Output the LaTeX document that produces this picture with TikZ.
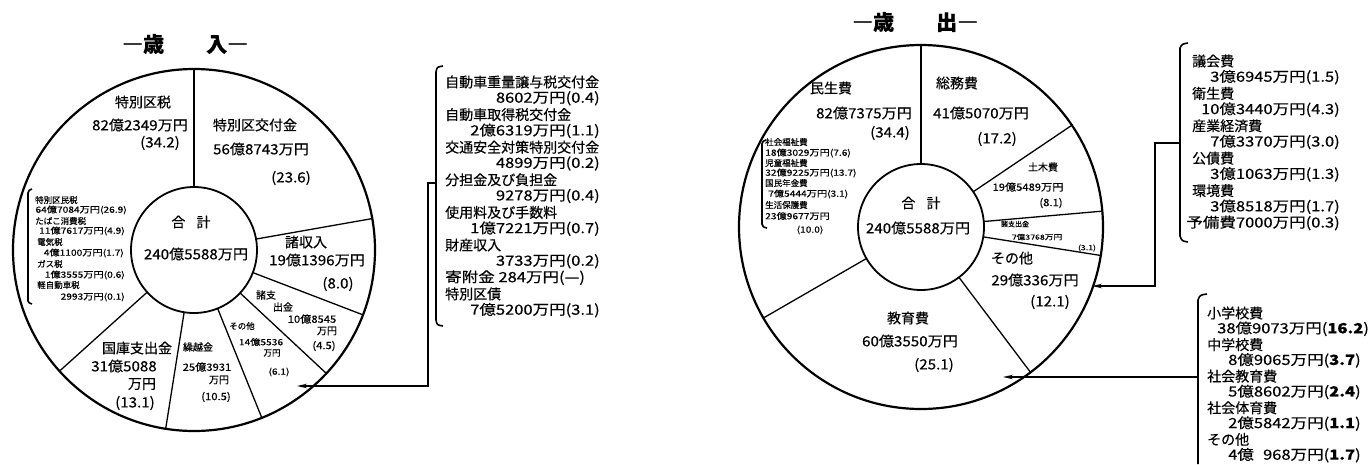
\documentclass[tikz,border=0pt]{standalone}
\usepackage{fontspec}
\setmainfont{Noto Sans CJK JP}[FakeBold=0.35]
\usetikzlibrary{arrows.meta,calc}
\newcommand\fsz[1]{\fontsize{#1}{#1}\selectfont}
\begin{document}
\begin{tikzpicture}[x=1pt,y=-1pt,
  outerc/.style={line width=2.2pt},
  innerc/.style={line width=1.8pt},
  segline/.style={line width=1.3pt},
  brk/.style={line width=1.6pt},
  leadarrow/.style={line width=1.2pt,-{Stealth[length=10pt,width=4.5pt]}},
  txt/.style={inner sep=0pt},
  ttl/.style={txt,font=\fsz{21}\bfseries},
  big/.style={txt,font=\fsz{14}},
  bignum/.style={txt,font=\fsz{14},xscale=1.08},
  lst/.style={txt,font=\fsz{14},anchor=west},
  lstnum/.style={txt,font=\fsz{14},xscale=1.18},
  mid/.style={txt,font=\fsz{10}},
  midnum/.style={txt,font=\fsz{10},xscale=1.12},
  sml/.style={txt,font=\fsz{8.5}},
  smlnum/.style={txt,font=\fsz{8.5},xscale=1.2},
  tiny/.style={txt,font=\fsz{7}},
  tinynum/.style={txt,font=\fsz{7},xscale=1.25},
]
\fill[white] (0,0) rectangle (1371,464);
\useasboundingbox (0,0) rectangle (1371,464);

% ---------------- titles
\node[ttl,anchor=west] (tl) at (122,44) {―歳　　入―};
\node[ttl,anchor=west] (tr) at (852,22) {―歳　　出―};

% ---------------- left pie
\coordinate (LC) at (194,250);
\draw[outerc] (LC) circle[radius=181pt];
\draw[innerc] (LC) circle[radius=63pt];
\foreach \a in {90,10,-21,-43,-68,-99,-138}
  \draw[segline] ($(LC)+(\a:63pt)$) -- ($(LC)+(\a:181pt)$);

\node[big] (lt1) at (191,222) {合\hspace{0.8em}計};
\node[bignum] (lt2) at (196,254) {240億5588万円};

\node[big] (l1a) at (143,102) {特別区税};
\node[bignum] (l1b) at (140,125) {82億2349万円};
\node[bignum] (l1c) at (160,143) {(34.2)};
\node[big] (l2a) at (255,125) {特別区交付金};
\node[bignum] (l2b) at (261,149) {56億8743万円};
\node[bignum] (l2c) at (291,178) {(23.6)};
\node[big] (l3a) at (306,242) {諸収入};
\node[bignum] (l3b) at (317,260) {19億1396万円};
\node[bignum] (l3c) at (338,284) {(8.0)};
\node[mid] (l4a) at (266,295) {諸支};
\node[mid] (l4b) at (283,307) {出金};
\node[midnum] (l4c) at (312,319) {10億8545};
\node[mid] (l4d) at (327,331) {万円};
\node[midnum] (l4e) at (324,346) {(4.5)};
\node[sml] (l5a) at (242,326) {その他};
\node[smlnum] (l5b) at (261,342) {14億5536};
\node[sml] (l5c) at (272,353) {万円};
\node[smlnum] (l5d) at (279,372) {(6.1)};
\node[mid] (l6a) at (198,347) {繰越金};
\node[midnum] (l6b) at (207,367) {25億3931};
\node[mid] (l6c) at (219,380) {万円};
\node[midnum] (l6d) at (216,397) {(10.5)};
\node[big] (l7a) at (137,348) {国庫支出金};
\node[bignum] (l7b) at (124,366) {31億5088};
\node[big] (l7c) at (142,384) {万円};
\node[bignum] (l7d) at (135,403) {(13.1)};

% small list inside left pie
\draw[brk] (32,189) .. controls (29,190) .. (28,193) -- (28,301) .. controls (29,303) .. (32,304);
\node[sml,anchor=west] (s1) at (35,200) {特別区民税};
\node[smlnum,anchor=east] (s2) at (127,210) {64億7084万円(26.9)};
\node[sml,anchor=west] (s3) at (35,221) {たばこ消費税};
\node[smlnum,anchor=east] (s4) at (125,231) {11億7617万円(4.9)};
\node[sml,anchor=west] (s5) at (37,242) {電気税};
\node[smlnum,anchor=east] (s6) at (124,253) {4億1100万円(1.7)};
\node[sml,anchor=west] (s7) at (37,264) {ガス税};
\node[smlnum,anchor=east] (s8) at (125,275) {1億3555万円(0.6)};
\node[sml,anchor=west] (s9) at (37,285) {軽自動車税};
\node[smlnum,anchor=east] (s10) at (125,297) {2993万円(0.1)};

% left bracket list
\draw[brk] (443,66) .. controls (437,67) .. (436,72) -- (436,320) .. controls (437,325) .. (443,326);
\coordinate (la0) at (436,183);
\coordinate (la1) at (428,183);
\coordinate (la2) at (428,386);
\coordinate (latip) at (297,386);
\draw[leadarrow] (la0) -- (la1) -- (la2) -- (latip);

\node[lst] (a0) at (445,82) {自動車重量譲与税交付金};
\node[lstnum,anchor=east] (a1) at (600,98.3) {8602万円(0.4)};
\node[lst] (a2) at (445,114.6) {自動車取得税交付金};
\node[lstnum,anchor=east] (a3) at (600,130.9) {2億6319万円(1.1)};
\node[lst] (a4) at (445,147.2) {交通安全対策特別交付金};
\node[lstnum,anchor=east] (a5) at (600,163.5) {4899万円(0.2)};
\node[lst] (a6) at (445,179.8) {分担金及び負担金};
\node[lstnum,anchor=east] (a7) at (600,196.1) {9278万円(0.4)};
\node[lst] (a8) at (445,212.4) {使用料及び手数料};
\node[lstnum,anchor=east] (a9) at (600,228.7) {1億7221万円(0.7)};
\node[lst] (a10) at (445,245) {財産収入};
\node[lstnum,anchor=east] (a11) at (600,261.3) {3733万円(0.2)};
\node[lstnum,anchor=west] (a12) at (445,277.6) {寄附金 284万円(—)};
\node[lst] (a13) at (445,293.9) {特別区債};
\node[lstnum,anchor=east] (a14) at (600,310.2) {7億5200万円(3.1)};

% ---------------- right pie
\coordinate (RC) at (921,227);
\draw[outerc] (RC) circle[radius=182pt];
\draw[innerc] (RC) circle[radius=63pt];
\foreach \a in {90,34,5,-9,-53,-150}
  \draw[segline] ($(RC)+(\a:63pt)$) -- ($(RC)+(\a:182pt)$);

\node[big] (rt1) at (921,203) {合\hspace{0.8em}計};
\node[bignum] (rt2) at (918,228) {240億5588万円};

\node[big] (r1a) at (831,88) {民生費};
\node[bignum] (r1b) at (864,113) {82億7375万円};
\node[bignum] (r1c) at (890,133) {(34.4)};
\node[big] (r2a) at (957,83) {総務費};
\node[bignum] (r2b) at (981,113) {41億5070万円};
\node[bignum] (r2c) at (997,139) {(17.2)};
\node[mid] (r3a) at (1043,167) {土木費};
\node[midnum] (r3b) at (1028,187) {19億5489万円};
\node[midnum] (r3c) at (1051,203) {(8.1)};
\node[tiny] (r4a) at (1015,224) {諸支出金};
\node[tinynum] (r4b) at (1037,237) {7億3768万円};
\node[tinynum] (r4c) at (1087,248) {(3.1)};
\node[big] (r5a) at (1012,258) {その他};
\node[bignum] (r5b) at (1035,280) {29億336万円};
\node[bignum] (r5c) at (1050,302) {(12.1)};
\node[big] (r6a) at (908,318) {教育費};
\node[bignum] (r6b) at (910,341) {60億3550万円};
\node[bignum] (r6c) at (934,365) {(25.1)};

% small list inside right pie
\draw[brk] (766,140) .. controls (763,141) .. (762,144) -- (762,224) .. controls (763,227) .. (767,228);
\node[sml,anchor=west] (m1) at (765,142) {社会福祉費};
\node[smlnum,anchor=west] (m2) at (765,153) {18億3029万円(7.6)};
\node[sml,anchor=west] (m3) at (765,163) {児童福祉費};
\node[smlnum,anchor=west] (m4) at (765,173) {32億9225万円(13.7)};
\node[sml,anchor=west] (m5) at (765,183) {国民年金費};
\node[smlnum,anchor=west] (m6) at (768,194) {7億5444万円(3.1)};
\node[sml,anchor=west] (m7) at (765,205) {生活保護費};
\node[smlnum,anchor=west] (m8) at (765,216) {23億9677万円};
\node[smlnum] (m9) at (810,230) {(10.0)};

% right upper bracket list
\draw[brk] (1188,43) .. controls (1182,44) .. (1180,48) -- (1180,236) .. controls (1182,241) .. (1188,242);
\coordinate (ub0) at (1180,143);
\coordinate (ub1) at (1155,143);
\coordinate (ub2) at (1155,286);
\coordinate (ubtip) at (1092,286);
\draw[leadarrow] (ub0) -- (ub1) -- (ub2) -- (ubtip);

\node[lst] (b0) at (1192,61) {議会費};
\node[lstnum,anchor=east] (b1) at (1340,77.2) {3億6945万円(1.5)};
\node[lst] (b2) at (1192,93.4) {衛生費};
\node[lstnum,anchor=east] (b3) at (1340,109.6) {10億3440万円(4.3)};
\node[lst] (b4) at (1192,125.8) {産業経済費};
\node[lstnum,anchor=east] (b5) at (1340,142) {7億3370万円(3.0)};
\node[lst] (b6) at (1192,158.2) {公債費};
\node[lstnum,anchor=east] (b7) at (1340,174.4) {3億1063万円(1.3)};
\node[lst] (b8) at (1192,190.6) {環境費};
\node[lstnum,anchor=east] (b9) at (1340,206.8) {3億8518万円(1.7)};
\node[lstnum,anchor=east] (b10) at (1340,223) {予備費7000万円(0.3)};

% right lower bracket list
\draw[brk] (1207,294) .. controls (1200,295) .. (1198,300) -- (1198,464);
\coordinate (lb0) at (1198,377);
\coordinate (lbtip) at (1003,377);
\draw[leadarrow] (lb0) -- (lbtip);

\node[lst] (c0) at (1207,313) {小学校費};
\node[lstnum,anchor=west] (c1) at (1217,328.8) {38億9073万円({\bfseries 16.2})};
\node[lst] (c2) at (1207,344.6) {中学校費};
\node[lstnum,anchor=west] (c3) at (1228,360.4) {8億9065万円({\bfseries 3.7})};
\node[lst] (c4) at (1207,376.2) {社会教育費};
\node[lstnum,anchor=west] (c5) at (1228,392) {5億8602万円({\bfseries 2.4})};
\node[lst] (c6) at (1207,407.8) {社会体育費};
\node[lstnum,anchor=west] (c7) at (1228,423.6) {2億5842万円({\bfseries 1.1})};
\node[lst] (c8) at (1207,439.4) {その他};
\node[lstnum,anchor=west] (c9) at (1228,455.2) {4億\phantom{0}968万円({\bfseries 1.7})};
\end{tikzpicture}
\end{document}
